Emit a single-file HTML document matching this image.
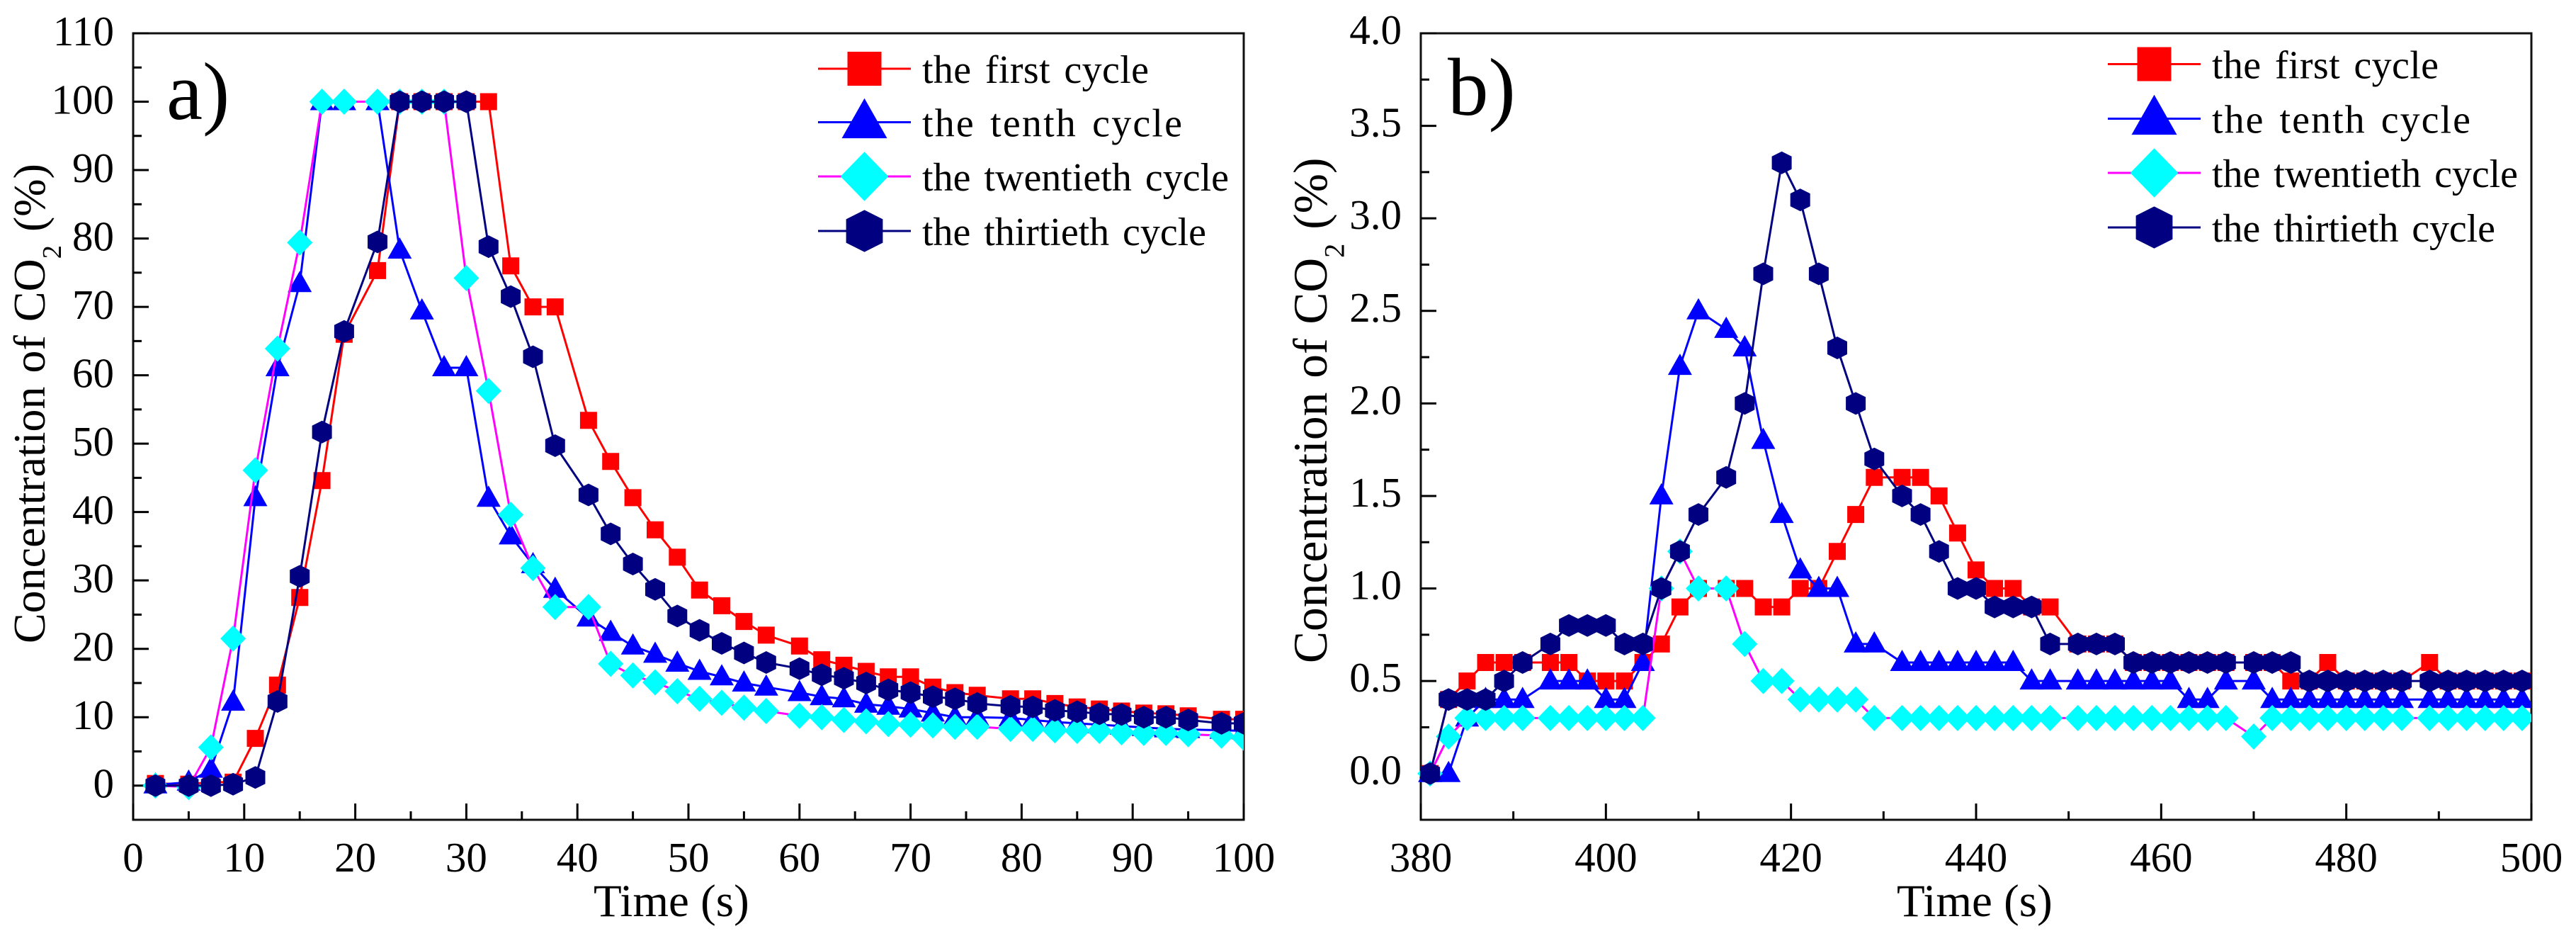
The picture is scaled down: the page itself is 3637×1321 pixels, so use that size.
<!DOCTYPE html>
<html lang="en">
<head>
<meta charset="utf-8">
<title>CO2 concentration cycles</title>
<style>
html,body{margin:0;padding:0;background:#fff;}
svg{display:block;}
text{font-family:"Liberation Serif","Times New Roman",serif;fill:#000;}
</style>
</head>
<body>
<svg id="chart" xmlns="http://www.w3.org/2000/svg" width="3637" height="1321" viewBox="0 0 3637 1321">
<rect x="0" y="0" width="3637" height="1321" fill="#fff"/>
<defs>
<clipPath id="clip-a"><rect x="170" y="30" width="1586" height="1127"/></clipPath>
<clipPath id="clip-b"><rect x="1988" y="30" width="1586" height="1127"/></clipPath>
</defs>
<g id="panel-a"></g>
<g id="panel-b"></g>
</svg>
<script>
// Panel a data
const timeA = [2,5,7,9,11,13,15,17,19,22,24,26,28,30,32,34,36,38,41,43,45,47,49,51,53,55,57,60,62,64,66,68,70,72,74,76,79,81,83,85,87,89,91,93,95,98,100];
const firstA = [0.3,0.2,0.5,0.5,6.9,14.7,27.5,44.6,66,75.3,100,100,100,100,100,76,70,70,53.4,47.4,42.1,37.4,33.4,28.6,26.3,24,22,20.4,18.4,17.6,16.7,15.9,15.9,14.4,13.6,13.2,12.7,12.7,12,11.5,11.2,10.9,10.6,10.5,10.2,9.7,9.7];
const tenthA = [0.1,0.5,2.4,12.2,42.1,61.1,73.4,100,100,100,78.3,69.4,61.1,61.1,42,36.5,32.3,28.7,24.5,22.4,20.4,19.2,17.9,16.7,15.9,15,14.4,13.6,13,12.7,11.9,11.6,11.2,10.6,10,10,9.9,9.6,9.3,9.1,8.9,8.7,8.5,8.3,8.2,8.1,8];
const twentiethA = [0,-0.2,5.6,21.5,46.1,63.9,79.4,100,100,100,100,100,100,74.2,57.7,39.6,31.8,26.1,26.1,17.8,16.1,15.1,13.8,12.7,12.1,11.4,10.9,10.2,10,9.6,9.4,9,8.9,8.8,8.6,8.6,8.3,8.3,8.1,8,8,7.8,7.7,7.7,7.5,7.3,7];
const thirtiethA = [0,0,0,0.2,1.2,12.3,30.6,51.7,66.4,79.5,100,100,100,100,78.8,71.5,62.7,49.7,42.5,36.8,32.4,28.7,24.8,22.7,20.8,19.4,18,17.1,16.2,15.7,15,14,13.6,13,12.7,12,11.6,11.5,11,10.8,10.5,10.4,10,10,9.6,9.1,9.1];
const xTickLabelsA = [0,10,20,30,40,50,60,70,80,90,100];
const xMinorTicksA = [5,15,25,35,45,55,65,75,85,95];
const yTickLabelsA = [0,10,20,30,40,50,60,70,80,90,100,110];
const yMinorTicksA = [5,15,25,35,45,55,65,75,85,95,105];

// Panel b data
const timeB = [381,383,385,387,389,391,394,396,398,400,402,404,406,408,410,413,415,417,419,421,423,425,427,429,432,434,436,438,440,442,444,446,448,451,453,455,457,459,461,463,465,467,470,472,474,476,478,480,482,484,486,489,491,493,495,497,499];
const firstB = [0,0.4,0.5,0.6,0.6,0.6,0.6,0.6,0.5,0.5,0.5,0.6,0.7,0.9,1,1,1,0.9,0.9,1,1,1.2,1.4,1.6,1.6,1.6,1.5,1.3,1.1,1,1,0.9,0.9,0.7,0.7,0.7,0.6,0.6,0.6,0.6,0.6,0.6,0.6,0.6,0.5,0.5,0.6,0.5,0.5,0.5,0.5,0.6,0.5,0.5,0.5,0.5,0.5];
const tenthB = [0,0,0.3,0.4,0.4,0.4,0.5,0.5,0.5,0.4,0.4,0.6,1.5,2.2,2.5,2.4,2.3,1.8,1.4,1.1,1,1,0.7,0.7,0.6,0.6,0.6,0.6,0.6,0.6,0.6,0.5,0.5,0.5,0.5,0.5,0.5,0.5,0.5,0.4,0.4,0.5,0.5,0.4,0.4,0.4,0.4,0.4,0.4,0.4,0.4,0.4,0.4,0.4,0.4,0.4,0.4];
const twentiethB = [0,0.2,0.3,0.3,0.3,0.3,0.3,0.3,0.3,0.3,0.3,0.3,1,1.2,1,1,0.7,0.5,0.5,0.4,0.4,0.4,0.4,0.3,0.3,0.3,0.3,0.3,0.3,0.3,0.3,0.3,0.3,0.3,0.3,0.3,0.3,0.3,0.3,0.3,0.3,0.3,0.2,0.3,0.3,0.3,0.3,0.3,0.3,0.3,0.3,0.3,0.3,0.3,0.3,0.3,0.3];
const thirtiethB = [0,0.4,0.4,0.4,0.5,0.6,0.7,0.8,0.8,0.8,0.7,0.7,1,1.2,1.4,1.6,2,2.7,3.3,3.1,2.7,2.3,2,1.7,1.5,1.4,1.2,1,1,0.9,0.9,0.9,0.7,0.7,0.7,0.7,0.6,0.6,0.6,0.6,0.6,0.6,0.6,0.6,0.6,0.5,0.5,0.5,0.5,0.5,0.5,0.5,0.5,0.5,0.5,0.5,0.5];
const xTickLabelsB = [380,400,420,440,460,480,500];
const xMinorTicksB = [390,410,430,450,470,490];
const yTickLabelsB = ['0.0','0.5','1.0','1.5','2.0','2.5','3.0','3.5','4.0'];
const yMinorTicksB = [0.25,0.75,1.25,1.75,2.25,2.75,3.25,3.75];

const seriesNames = ['the first cycle','the tenth cycle','the twentieth cycle','the thirtieth cycle'];
const lineColors = ['#ff0000','#0000ff','#ff00ff','#000080'];
const markerColors = ['#ff0000','#0000ff','#00ffff','#000080'];
const markerKinds = ['square','triangle','diamond','hexagon'];

const NS = 'http://www.w3.org/2000/svg';
function el(tag, parent, attrs) {
  const node = document.createElementNS(NS, tag);
  for (const k in attrs) node.setAttribute(k, attrs[k]);
  parent.appendChild(node);
  return node;
}
function slug(s) { return s.replace(/\s+/g, '-'); }

// scale=1 is a plot marker, legend markers are about twice as large
function markerPoints(kind, cx, cy, s) {
  let pts;
  if (kind === 'triangle') pts = [[0,-18],[17,12],[-17,12]];
  else if (kind === 'diamond') pts = [[0,-18.5],[18,0],[0,18.5],[-18,0]];
  else if (kind === 'hexagon') pts = [[0,-16],[14,-9],[14,9],[0,16],[-14,9],[-14,-9]];
  else pts = [[-12,-12],[12,-12],[12,12],[-12,12]];
  return pts.map(function (p) { return (cx + p[0] * s).toFixed(1) + ',' + (cy + p[1] * s).toFixed(1); }).join(' ');
}

function drawPanel(cfg) {
  const root = document.getElementById(cfg.id);
  const xScale = function (v) { return cfg.left + (v - cfg.xMin) / (cfg.xMax - cfg.xMin) * (cfg.right - cfg.left); };
  const yScale = function (v) { return cfg.bottom - (v - cfg.yMin) / (cfg.yMax - cfg.yMin) * (cfg.bottom - cfg.top); };

  // frame
  const frame = el('rect', root, {x: cfg.left, y: cfg.top, width: cfg.right - cfg.left, height: cfg.bottom - cfg.top, fill: 'none', stroke: '#111', 'stroke-width': 3});
  
  

  // x ticks
  cfg.xLabels.forEach(function (v) {
    const x = xScale(Number(v));
    const t = el('line', root, {x1: x, x2: x, y1: cfg.bottom, y2: cfg.bottom - 23, stroke: '#000', 'stroke-width': 3});
    
    
    const lab = el('text', root, {x: x, y: 1230, 'font-size': 59, 'text-anchor': 'middle'});
    lab.textContent = v;
    
    
  });
  cfg.xMinor.forEach(function (v) {
    const x = xScale(v);
    const t = el('line', root, {x1: x, x2: x, y1: cfg.bottom, y2: cfg.bottom - 12, stroke: '#000', 'stroke-width': 3});
    
    
  });

  // y ticks
  cfg.yLabels.forEach(function (v) {
    const y = yScale(Number(v));
    const t = el('line', root, {x1: cfg.left, x2: cfg.left + 22, y1: y, y2: y, stroke: '#000', 'stroke-width': 3});
    
    
    const lab = el('text', root, {x: cfg.left - 27, y: y + cfg.yLabelShift, 'font-size': 59, 'text-anchor': 'end'});
    lab.textContent = v;
    
    
  });
  cfg.yMinor.forEach(function (v) {
    const y = yScale(v);
    const t = el('line', root, {x1: cfg.left, x2: cfg.left + 12, y1: y, y2: y, stroke: '#000', 'stroke-width': 3});
    
    
  });

  // series
  cfg.series.forEach(function (values, i) {
    const g = el('g', root, {'clip-path': 'url(#' + cfg.clip + ')'});
    
    
    const d = values.map(function (v, j) { return xScale(cfg.times[j]).toFixed(1) + ',' + yScale(v).toFixed(1); }).join(' ');
    const line = el('polyline', g, {points: d, fill: 'none', stroke: lineColors[i], 'stroke-width': 3, 'stroke-linejoin': 'round'});
    
    
    values.forEach(function (v, j) {
      const m = el('polygon', g, {points: markerPoints(markerKinds[i], xScale(cfg.times[j]), yScale(v), 1), fill: markerColors[i]});
      
      
    });
  });

  // panel letter
  const letter = el('text', root, {x: cfg.letterX, y: cfg.letterY, 'font-size': 115});
  letter.textContent = cfg.letter;
  
  

  // axis titles
  const xt = el('text', root, {x: cfg.xTitleX, y: 1293, 'font-size': 65});
  xt.textContent = 'Time (s)';
  
  

  const yt = el('text', root, {transform: 'translate(' + cfg.yTitleX + ',' + cfg.yTitleY + ') rotate(-90)', 'font-size': cfg.yTitleSize, 'word-spacing': 3});
  
  
  const t1 = el('tspan', yt, {});
  t1.textContent = 'Concentration of CO';
  const t2 = el('tspan', yt, {dy: cfg.yTitleSize * 0.36, 'font-size': cfg.yTitleSize * 0.6});
  t2.textContent = '2';
  const t3 = el('tspan', yt, {dy: -cfg.yTitleSize * 0.36});
  t3.textContent = ' (%)';

  // legend
  seriesNames.forEach(function (name, i) {
    const g = el('g', root, {});
    
    
    const y = cfg.legendY[i];
    const swatch = el('line', g, {x1: cfg.legendX1, x2: cfg.legendX2, y1: y, y2: y, stroke: lineColors[i], 'stroke-width': 3});
    
    
    const s = {square: 2, triangle: 1.88, diamond: 1.88, hexagon: 1.85}[markerKinds[i]];
    const mk = el('polygon', g, {points: markerPoints(markerKinds[i], (cfg.legendX1 + cfg.legendX2) / 2, y, s), fill: markerColors[i]});
    
    
    const tx = el('text', g, {x: cfg.legendTextX, y: y + 20, 'font-size': 56, 'word-spacing': 5, textLength: cfg.legendWidths[i], lengthAdjust: 'spacing'});
    tx.textContent = name;
    
    
  });
}

drawPanel({
  id: 'panel-a', clip: 'clip-a', letter: 'a)', letterX: 235, letterY: 168,
  left: 188, right: 1756, top: 47, bottom: 1157,
  xMin: 0, xMax: 100, yMin: -5, yMax: 110,
  xLabels: xTickLabelsA, xMinor: xMinorTicksA, yLabels: yTickLabelsA, yMinor: yMinorTicksA,
  yLabelShift: 17, times: timeA, series: [firstA, tenthA, twentiethA, thirtiethA],
  xTitleX: 838, yTitleX: 63, yTitleY: 908, yTitleSize: 64,
  legendY: [97, 172.5, 249, 326], legendX1: 1155, legendX2: 1286, legendTextX: 1302,
  legendWidths: [320, 367, 433, 401]
});
drawPanel({
  id: 'panel-b', clip: 'clip-b', letter: 'b)', letterX: 2044, letterY: 162,
  left: 2006, right: 3574, top: 47, bottom: 1157,
  xMin: 380, xMax: 500, yMin: -0.25, yMax: 4,
  xLabels: xTickLabelsB, xMinor: xMinorTicksB, yLabels: yTickLabelsB, yMinor: yMinorTicksB,
  yLabelShift: 15, times: timeB, series: [firstB, tenthB, twentiethB, thirtiethB],
  xTitleX: 2678, yTitleX: 1873, yTitleY: 936, yTitleSize: 67.5,
  legendY: [90.5, 167.5, 244, 321], legendX1: 2976, legendX2: 3107, legendTextX: 3123,
  legendWidths: [320, 365, 432, 400]
});
</script>
</body>
</html>
